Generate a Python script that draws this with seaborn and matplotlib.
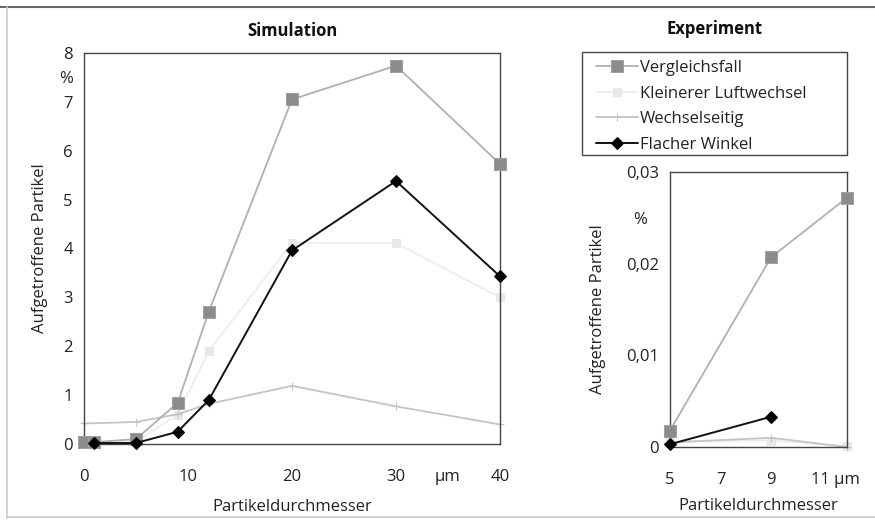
import matplotlib
matplotlib.use("Agg")
import matplotlib.pyplot as plt
import seaborn as sns
import numpy as np
from matplotlib.lines import Line2D
from matplotlib.patches import Rectangle
from matplotlib.ticker import MultipleLocator, FixedLocator
import matplotlib.transforms as mtransforms

sns.set_theme(style="white")
plt.rcParams['font.family'] = ['Open Sans', 'DejaVu Sans']

# ---- data: Simulation ----
sim_x_verg = [0, 1, 5, 9, 12, 20, 30, 40]
sim_y_verg = [0.04, 0.04, 0.10, 0.84, 2.71, 7.05, 7.74, 5.73]
sim_x_klein = [0, 1, 5, 9, 12, 20, 30, 40]
sim_y_klein = [0.03, 0.03, 0.05, 0.60, 1.90, 4.12, 4.11, 3.00]
sim_x_wechsel = [0, 5, 9, 12, 20, 30, 40]
sim_y_wechsel = [0.42, 0.45, 0.61, 0.82, 1.19, 0.77, 0.40]
sim_x_flach = [1, 5, 9, 12, 20, 30, 40]
sim_y_flach = [0.02, 0.02, 0.25, 0.90, 3.96, 5.38, 3.43]

# ---- data: Experiment ----
exp_x_verg = [5, 9, 12]
exp_y_verg = [0.0018, 0.0207, 0.0272]
exp_x_klein = [5, 9, 12]
exp_y_klein = [0.0006, 0.0007, 0.0001]
exp_x_wechsel = [5, 9, 12]
exp_y_wechsel = [0.0005, 0.0010, 0.0000]
exp_x_flach = [5, 9]
exp_y_flach = [0.0003, 0.0033]

series_names = ["Vergleichsfall", "Kleinerer Luftwechsel", "Wechselseitig", "Flacher Winkel"]
sim_left_yticks = [0, 1, 2, 3, 4, 5, 6, 7, 7.5, 8]
sim_left_yticklabels = ["0", "1", "2", "3", "4", "5", "6", "7", "%", "8"]
sim_xticks = [0, 10, 20, 30, 35, 40]
sim_xticklabels = ["0", "10", "20", "30", "µm", "40"]
exp_yticks = [0, 0.01, 0.02, 0.025, 0.03]
exp_yticklabels = ["0", "0,01", "0,02", "%", "0,03"]
exp_xticks = [5, 7, 9, 11]
exp_xticklabels = ["5", "7", "9", "11 µm"]

styles = {
    "Vergleichsfall": dict(color="#b0b0b0", marker="s", markersize=8,
                           markerfacecolor="#8c8c8c", markeredgecolor="#a0a0a0", linewidth=1.3),
    "Kleinerer Luftwechsel": dict(color="#ededed", marker="s", markersize=6,
                                  markerfacecolor="#e8e8e8", markeredgecolor="#e8e8e8", linewidth=1.3),
    "Wechselseitig": dict(color="#c4c4c4", marker="+", markersize=6,
                          markerfacecolor="#c4c4c4", markeredgecolor="#c4c4c4", linewidth=1.3),
    "Flacher Winkel": dict(color="#111111", marker="D", markersize=6,
                           markerfacecolor="#000000", markeredgecolor="#000000", linewidth=1.4),
}
zorders = {"Vergleichsfall": 3, "Kleinerer Luftwechsel": 1, "Wechselseitig": 2, "Flacher Winkel": 4}

fig = plt.figure(figsize=(8.75, 5.21), dpi=100)
fig.patch.set_facecolor("white")

ax1 = fig.add_axes([84/875, 1-444/521, (500-84)/875, (444-53)/521])
ax2 = fig.add_axes([670/875, 1-447/521, (847-670)/875, (447-172)/521])

sim = {
    "Vergleichsfall": (sim_x_verg, sim_y_verg),
    "Kleinerer Luftwechsel": (sim_x_klein, sim_y_klein),
    "Wechselseitig": (sim_x_wechsel, sim_y_wechsel),
    "Flacher Winkel": (sim_x_flach, sim_y_flach),
}
exp = {
    "Vergleichsfall": (exp_x_verg, exp_y_verg),
    "Kleinerer Luftwechsel": (exp_x_klein, exp_y_klein),
    "Wechselseitig": (exp_x_wechsel, exp_y_wechsel),
    "Flacher Winkel": (exp_x_flach, exp_y_flach),
}

for ax, data in ((ax1, sim), (ax2, exp)):
    for name in series_names:
        xs, ys = data[name]
        sns.lineplot(x=xs, y=ys, ax=ax, label=name, zorder=zorders[name],
                     clip_on=False, **styles[name])
    ax.get_legend().remove()

fs = 12
for ax in (ax1, ax2):
    for s in ax.spines.values():
        s.set_color("#444444")
        s.set_linewidth(1.0)
    ax.set_facecolor("white")
    ax.tick_params(axis="both", which="both", direction="in", colors="#444444",
                   labelcolor="#222222", labelsize=fs)
    ax.tick_params(axis="both", which="major", length=5, width=1.0)
    ax.tick_params(axis="both", which="minor", length=3, width=0.8)
    ax.tick_params(axis="x", which="both", pad=18)
    ax.tick_params(axis="y", which="both", pad=8)

# Left axes
ax1.set_xlim(0, 40)
ax1.set_ylim(0, 8)
ax1.xaxis.set_major_locator(FixedLocator(sim_xticks))
ax1.set_xticklabels(sim_xticklabels)
ax1.xaxis.set_minor_locator(MultipleLocator(2))
ax1.yaxis.set_major_locator(FixedLocator(sim_left_yticks))
ax1.set_yticklabels(sim_left_yticklabels)
ax1.yaxis.set_minor_locator(MultipleLocator(0.2))
ax1.set_xlabel("Partikeldurchmesser", fontsize=fs, color="#222222", labelpad=10)
ax1.set_ylabel("Aufgetroffene Partikel", fontsize=fs, color="#222222", labelpad=8)
ax1.set_title("Simulation", fontsize=fs, fontweight="bold", color="#111111", pad=12)

# Right axes
ax2.set_xlim(5, 12)
ax2.set_ylim(0, 0.03)
ax2.xaxis.set_major_locator(FixedLocator(exp_xticks))
ax2.set_xticklabels(exp_xticklabels)
ax2.xaxis.set_minor_locator(MultipleLocator(1))
ax2.yaxis.set_major_locator(FixedLocator(exp_yticks))
ax2.set_yticklabels(exp_yticklabels)
ax2.yaxis.set_minor_locator(MultipleLocator(0.005))
ax2.set_xlabel("Partikeldurchmesser", fontsize=fs, color="#222222", labelpad=7)
ax2.set_ylabel("Aufgetroffene Partikel", fontsize=fs, color="#222222", labelpad=14)
for lab in ax2.get_yticklabels():
    if lab.get_text() == "%":
        lab.set_transform(lab.get_transform() +
                          mtransforms.ScaledTranslation(-12/100, 0, fig.dpi_scale_trans))
for lab in ax2.get_xticklabels():
    if "µm" in lab.get_text():
        lab.set_transform(lab.get_transform() +
                          mtransforms.ScaledTranslation(14/100, 0, fig.dpi_scale_trans))

fig.text(715/875, 1-29/521, "Experiment", fontsize=fs, fontweight="bold",
         color="#111111", ha="center", va="center")

# Legend (frame drawn separately to match the reference box)
handles, labels = ax1.get_legend_handles_labels()
leg = fig.legend(handles, labels, loc="upper left",
                 bbox_to_anchor=(596/875, 1-60/521),
                 fontsize=fs, frameon=False,
                 handlelength=2.5, handletextpad=0.15, borderpad=0.0,
                 labelspacing=0.58, borderaxespad=0.0)
for t in leg.get_texts():
    t.set_color("#222222")
fig.add_artist(Rectangle((582/875, 1-155/521), (847-582)/875, (155-52)/521,
                         transform=fig.transFigure, fill=False,
                         edgecolor="#444444", linewidth=1.0))

# figure border (scan frame)
fig.add_artist(Line2D([0, 1], [1-7/521, 1-7/521], transform=fig.transFigure,
                      color="#666666", linewidth=1.5))
fig.add_artist(Line2D([7/875, 7/875], [0.005, 1-7/521], transform=fig.transFigure,
                      color="#cccccc", linewidth=1.2))
fig.add_artist(Line2D([7/875, 1], [4/521, 4/521], transform=fig.transFigure,
                      color="#cccccc", linewidth=1.2))

fig.savefig("out.png", dpi=100, facecolor="white")
